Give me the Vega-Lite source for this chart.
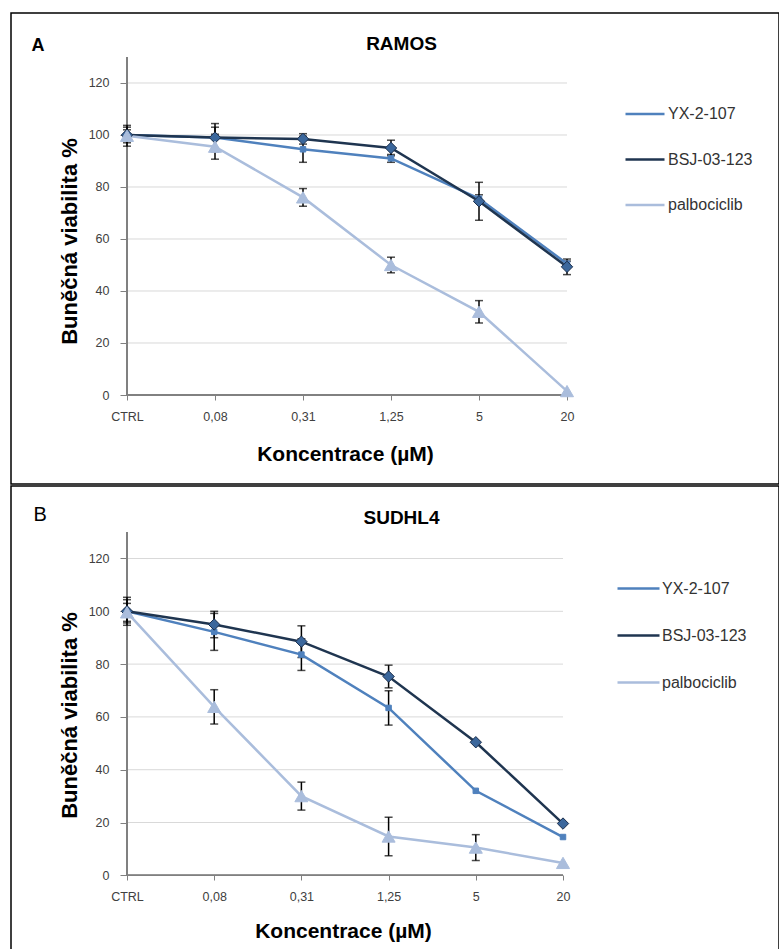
{
  "$schema": "https://vega.github.io/schema/vega-lite/v6.json",
  "padding": {"left": 10, "top": 12, "right": 0, "bottom": 0},
  "spacing": 0,
  "resolve": {"scale": {"color": "independent"}, "legend": {"color": "independent"}},
  "config": {
    "view": {"stroke": "#000000", "strokeWidth": 1.5},
    "font": "Liberation Sans",
    "concat": {"spacing": 0},
    "axis": {"labelFont": "Liberation Sans", "titleFont": "Liberation Sans"},
    "legend": {"labelFont": "Liberation Sans"}
  },
  "datasets": {
    "grid": [{"g": 20}, {"g": 40}, {"g": 60}, {"g": 80}, {"g": 100}, {"g": 120}],
    "ramos": [
      {"conc": "CTRL", "series": "YX-2-107", "v": 100, "err": 3},
      {"conc": "0,08", "series": "YX-2-107", "v": 99, "err": 4},
      {"conc": "0,31", "series": "YX-2-107", "v": 94.5, "err": 5},
      {"conc": "1,25", "series": "YX-2-107", "v": 91, "err": 1.5},
      {"conc": "5", "series": "YX-2-107", "v": 75.5, "err": 1.5},
      {"conc": "20", "series": "YX-2-107", "v": 50.5, "err": 1},
      {"conc": "CTRL", "series": "BSJ-03-123", "v": 100, "err": 2},
      {"conc": "0,08", "series": "BSJ-03-123", "v": 99, "err": 5.4},
      {"conc": "0,31", "series": "BSJ-03-123", "v": 98.5, "err": 2},
      {"conc": "1,25", "series": "BSJ-03-123", "v": 95, "err": 3},
      {"conc": "5", "series": "BSJ-03-123", "v": 74.5, "err": 7.3},
      {"conc": "20", "series": "BSJ-03-123", "v": 49.3, "err": 3},
      {"conc": "CTRL", "series": "palbociclib", "v": 99.7, "err": 4},
      {"conc": "0,08", "series": "palbociclib", "v": 95.5, "err": 4.8},
      {"conc": "0,31", "series": "palbociclib", "v": 76, "err": 3.4},
      {"conc": "1,25", "series": "palbociclib", "v": 50, "err": 3},
      {"conc": "5", "series": "palbociclib", "v": 32, "err": 4.3},
      {"conc": "20", "series": "palbociclib", "v": 1.5, "err": 0}
    ],
    "sudhl4": [
      {"conc": "CTRL", "series": "YX-2-107", "v": 100, "err": 4.4},
      {"conc": "0,08", "series": "YX-2-107", "v": 92.2, "err": 7},
      {"conc": "0,31", "series": "YX-2-107", "v": 83.6, "err": 6},
      {"conc": "1,25", "series": "YX-2-107", "v": 63.4, "err": 6.5},
      {"conc": "5", "series": "YX-2-107", "v": 32, "err": 0},
      {"conc": "20", "series": "YX-2-107", "v": 14.5, "err": 0},
      {"conc": "CTRL", "series": "BSJ-03-123", "v": 100, "err": 5.3},
      {"conc": "0,08", "series": "BSJ-03-123", "v": 95, "err": 5},
      {"conc": "0,31", "series": "BSJ-03-123", "v": 88.5, "err": 6},
      {"conc": "1,25", "series": "BSJ-03-123", "v": 75.3, "err": 4.3},
      {"conc": "5", "series": "BSJ-03-123", "v": 50.4, "err": 0},
      {"conc": "20", "series": "BSJ-03-123", "v": 19.6, "err": 0},
      {"conc": "CTRL", "series": "palbociclib", "v": 99.6, "err": 3.4},
      {"conc": "0,08", "series": "palbociclib", "v": 63.8, "err": 6.5},
      {"conc": "0,31", "series": "palbociclib", "v": 30, "err": 5.3},
      {"conc": "1,25", "series": "palbociclib", "v": 14.7, "err": 7.3},
      {"conc": "5", "series": "palbociclib", "v": 10.5, "err": 4.9},
      {"conc": "20", "series": "palbociclib", "v": 4.7, "err": 0}
    ]
  },
  "vconcat": [
    {
      "width": 768,
      "height": 471,
      "layer": [
        {
          "data": {"name": "grid"},
          "mark": {"type": "rule", "color": "#D9D9D9", "strokeWidth": 1},
          "encoding": {
            "y": {"field": "g", "type": "quantitative", "scale": {"domain": [-34.23, 146.92], "nice": false, "zero": false}, "axis": null},
            "x": {"datum": "CTRL", "type": "ordinal", "scale": {"type": "point", "domain": ["CTRL", "0,08", "0,31", "1,25", "5", "20"], "padding": 0, "range": [116, 556]}, "axis": null},
            "x2": {"datum": "20"}
          }
        },
        {
          "data": {"name": "grid"},
          "mark": {"type": "rule", "color": "#808080", "strokeWidth": 1.2},
          "encoding": {
            "y": {"datum": 0, "type": "quantitative", "scale": {"domain": [-34.23, 146.92], "nice": false, "zero": false}, "axis": null},
            "y2": {"datum": 130},
            "x": {"datum": "CTRL", "type": "ordinal", "scale": {"type": "point", "domain": ["CTRL", "0,08", "0,31", "1,25", "5", "20"], "padding": 0, "range": [116, 556]}, "axis": null}
          }
        },
        {
          "data": {"name": "grid"},
          "mark": {"type": "rule", "color": "#808080", "strokeWidth": 1.2},
          "encoding": {
            "y": {"datum": 0, "type": "quantitative", "scale": {"domain": [-34.23, 146.92], "nice": false, "zero": false}, "axis": null},
            "x": {"datum": "CTRL", "type": "ordinal", "scale": {"type": "point", "domain": ["CTRL", "0,08", "0,31", "1,25", "5", "20"], "padding": 0, "range": [116, 556]}, "axis": null},
            "x2": {"datum": "20"}
          }
        },
        {
          "data": {"name": "ramos"},
          "transform": [{"filter": "datum.err > 0"}],
          "mark": {"type": "errorbar", "color": "#000000", "ticks": {"size": 8, "thickness": 1.5, "color": "#000000"}, "rule": {"strokeWidth": 1.5, "color": "#000000"}},
          "encoding": {
            "x": {"field": "conc", "type": "ordinal", "scale": {"type": "point", "domain": ["CTRL", "0,08", "0,31", "1,25", "5", "20"], "padding": 0, "range": [116, 556]}, "axis": null},
            "y": {"field": "v", "type": "quantitative", "scale": {"domain": [-34.23, 146.92], "nice": false, "zero": false}, "axis": null},
            "yError": {"field": "err"}
          }
        },
        {
          "data": {"name": "ramos"},
          "mark": {"type": "line", "strokeWidth": 2.5},
          "encoding": {
            "x": {"field": "conc", "type": "ordinal", "scale": {"type": "point", "domain": ["CTRL", "0,08", "0,31", "1,25", "5", "20"], "padding": 0, "range": [116, 556]},
              "axis": {"orient": "bottom", "offset": -89, "domain": false, "grid": false, "ticks": true, "tickSize": 5, "tickColor": "#808080", "labelPadding": 10, "labelFontSize": 12.5, "labelColor": "#404040", "labelAngle": 0, "title": "Koncentrace (µM)", "titleX": 334, "titleY": 65, "titleAlign": "center", "titleBaseline": "alphabetic", "titleFontSize": 21, "titleFontWeight": "bold", "titleColor": "#000000", "minExtent": 0, "maxExtent": 0}},
            "y": {"field": "v", "type": "quantitative", "scale": {"domain": [-34.23, 146.92], "nice": false, "zero": false},
              "axis": {"orient": "left", "offset": -116, "values": [0, 20, 40, 60, 80, 100, 120], "domain": false, "grid": false, "tickSize": 7, "tickColor": "#808080", "labelPadding": 11, "labelFontSize": 12.5, "labelColor": "#404040", "title": "Buněčná viabilita %", "titleX": -51, "titleY": 228, "titleAngle": -90, "titleAlign": "center", "titleBaseline": "alphabetic", "titleFontSize": 22, "titleFontWeight": "bold", "titleColor": "#000000", "minExtent": 0, "maxExtent": 0}},
            "color": {"field": "series", "type": "nominal", "scale": {"domain": ["YX-2-107", "BSJ-03-123", "palbociclib"], "range": ["#4F81BD", "#1F3550", "#AABDDC"]},
              "legend": {"orient": "none", "legendX": 613, "legendY": 80, "title": null, "symbolType": "stroke", "symbolSize": 1521, "symbolStrokeWidth": 2.5, "labelFontSize": 16, "labelColor": "#333333", "rowPadding": 16.5, "labelOffset": 2}}
          }
        },
        {
          "data": {"name": "ramos"},
          "transform": [{"filter": "datum.series == 'YX-2-107'"}],
          "mark": {"type": "point", "filled": true, "opacity": 1, "shape": "square", "size": 30, "fill": "#4F81BD", "stroke": "#4F81BD", "strokeWidth": 1},
          "encoding": {
            "x": {"field": "conc", "type": "ordinal", "scale": {"type": "point", "domain": ["CTRL", "0,08", "0,31", "1,25", "5", "20"], "padding": 0, "range": [116, 556]},
              "axis": {"orient": "top", "domain": false, "grid": false, "ticks": false, "labels": false, "title": "RAMOS", "titleX": 390, "titleY": 36, "titleAlign": "center", "titleBaseline": "alphabetic", "titleFontSize": 19, "titleFontWeight": "bold", "titleColor": "#000000", "minExtent": 0, "maxExtent": 0}},
            "y": {"field": "v", "type": "quantitative", "scale": {"domain": [-34.23, 146.92], "nice": false, "zero": false},
              "axis": {"orient": "right", "domain": false, "grid": false, "ticks": false, "labels": false, "title": "A", "titleX": -748, "titleY": 37, "titleAngle": 0, "titleAlign": "left", "titleBaseline": "alphabetic", "titleFontSize": 18, "titleFontWeight": "bold", "titleColor": "#000000", "minExtent": 0, "maxExtent": 0}}
          }
        },
        {
          "data": {"name": "ramos"},
          "transform": [{"filter": "datum.series == 'BSJ-03-123'"}],
          "mark": {"type": "point", "filled": true, "opacity": 1, "shape": "diamond", "size": 130, "fill": "#3B679C", "stroke": "#1B2E4B", "strokeWidth": 1},
          "encoding": {
            "x": {"field": "conc", "type": "ordinal", "scale": {"type": "point", "domain": ["CTRL", "0,08", "0,31", "1,25", "5", "20"], "padding": 0, "range": [116, 556]}, "axis": null},
            "y": {"field": "v", "type": "quantitative", "scale": {"domain": [-34.23, 146.92], "nice": false, "zero": false}, "axis": null}
          }
        },
        {
          "data": {"name": "ramos"},
          "transform": [{"filter": "datum.series == 'palbociclib'"}],
          "mark": {"type": "point", "filled": true, "opacity": 1, "shape": "triangle-up", "size": 170, "fill": "#AABDDC", "stroke": "#AABDDC", "strokeWidth": 1},
          "encoding": {
            "x": {"field": "conc", "type": "ordinal", "scale": {"type": "point", "domain": ["CTRL", "0,08", "0,31", "1,25", "5", "20"], "padding": 0, "range": [116, 556]}, "axis": null},
            "y": {"field": "v", "type": "quantitative", "scale": {"domain": [-34.23, 146.92], "nice": false, "zero": false}, "axis": null}
          }
        }
      ]
    },
    {
      "width": 768,
      "height": 465,
      "layer": [
        {
          "data": {"name": "grid"},
          "mark": {"type": "rule", "color": "#D9D9D9", "strokeWidth": 1},
          "encoding": {
            "y": {"field": "g", "type": "quantitative", "scale": {"domain": [-28.67, 147.46], "nice": false, "zero": false}, "axis": null},
            "x": {"datum": "CTRL", "type": "ordinal", "scale": {"type": "point", "domain": ["CTRL", "0,08", "0,31", "1,25", "5", "20"], "padding": 0, "range": [116, 552]}, "axis": null},
            "x2": {"datum": "20"}
          }
        },
        {
          "data": {"name": "grid"},
          "mark": {"type": "rule", "color": "#808080", "strokeWidth": 1.2},
          "encoding": {
            "y": {"datum": 0, "type": "quantitative", "scale": {"domain": [-28.67, 147.46], "nice": false, "zero": false}, "axis": null},
            "y2": {"datum": 130},
            "x": {"datum": "CTRL", "type": "ordinal", "scale": {"type": "point", "domain": ["CTRL", "0,08", "0,31", "1,25", "5", "20"], "padding": 0, "range": [116, 552]}, "axis": null}
          }
        },
        {
          "data": {"name": "grid"},
          "mark": {"type": "rule", "color": "#808080", "strokeWidth": 1.2},
          "encoding": {
            "y": {"datum": 0, "type": "quantitative", "scale": {"domain": [-28.67, 147.46], "nice": false, "zero": false}, "axis": null},
            "x": {"datum": "CTRL", "type": "ordinal", "scale": {"type": "point", "domain": ["CTRL", "0,08", "0,31", "1,25", "5", "20"], "padding": 0, "range": [116, 552]}, "axis": null},
            "x2": {"datum": "20"}
          }
        },
        {
          "data": {"name": "sudhl4"},
          "transform": [{"filter": "datum.err > 0"}],
          "mark": {"type": "errorbar", "color": "#000000", "ticks": {"size": 8, "thickness": 1.5, "color": "#000000"}, "rule": {"strokeWidth": 1.5, "color": "#000000"}},
          "encoding": {
            "x": {"field": "conc", "type": "ordinal", "scale": {"type": "point", "domain": ["CTRL", "0,08", "0,31", "1,25", "5", "20"], "padding": 0, "range": [116, 552]}, "axis": null},
            "y": {"field": "v", "type": "quantitative", "scale": {"domain": [-28.67, 147.46], "nice": false, "zero": false}, "axis": null},
            "yError": {"field": "err"}
          }
        },
        {
          "data": {"name": "sudhl4"},
          "mark": {"type": "line", "strokeWidth": 2.5},
          "encoding": {
            "x": {"field": "conc", "type": "ordinal", "scale": {"type": "point", "domain": ["CTRL", "0,08", "0,31", "1,25", "5", "20"], "padding": 0, "range": [116, 552]},
              "axis": {"orient": "bottom", "offset": -76, "domain": false, "grid": false, "ticks": true, "tickSize": 5, "tickColor": "#808080", "labelPadding": 10, "labelFontSize": 12.5, "labelColor": "#404040", "labelAngle": 0, "title": "Koncentrace (µM)", "titleX": 332, "titleY": 62, "titleAlign": "center", "titleBaseline": "alphabetic", "titleFontSize": 21, "titleFontWeight": "bold", "titleColor": "#000000", "minExtent": 0, "maxExtent": 0}},
            "y": {"field": "v", "type": "quantitative", "scale": {"domain": [-28.67, 147.46], "nice": false, "zero": false},
              "axis": {"orient": "left", "offset": -116, "values": [0, 20, 40, 60, 80, 100, 120], "domain": false, "grid": false, "tickSize": 7, "tickColor": "#808080", "labelPadding": 11, "labelFontSize": 12.5, "labelColor": "#404040", "title": "Buněčná viabilita %", "titleX": -51, "titleY": 229, "titleAngle": -90, "titleAlign": "center", "titleBaseline": "alphabetic", "titleFontSize": 22, "titleFontWeight": "bold", "titleColor": "#000000", "minExtent": 0, "maxExtent": 0}},
            "color": {"field": "series", "type": "nominal", "scale": {"domain": ["YX-2-107", "BSJ-03-123", "palbociclib"], "range": ["#4F81BD", "#1F3550", "#AABDDC"]},
              "legend": {"orient": "none", "legendX": 605, "legendY": 80, "title": null, "symbolType": "stroke", "symbolSize": 1764, "symbolStrokeWidth": 2.5, "labelFontSize": 16, "labelColor": "#333333", "rowPadding": 16, "labelOffset": 1}}
          }
        },
        {
          "data": {"name": "sudhl4"},
          "transform": [{"filter": "datum.series == 'YX-2-107'"}],
          "mark": {"type": "point", "filled": true, "opacity": 1, "shape": "square", "size": 30, "fill": "#4F81BD", "stroke": "#4F81BD", "strokeWidth": 1},
          "encoding": {
            "x": {"field": "conc", "type": "ordinal", "scale": {"type": "point", "domain": ["CTRL", "0,08", "0,31", "1,25", "5", "20"], "padding": 0, "range": [116, 552]},
              "axis": {"orient": "top", "domain": false, "grid": false, "ticks": false, "labels": false, "title": "SUDHL4", "titleX": 390, "titleY": 37, "titleAlign": "center", "titleBaseline": "alphabetic", "titleFontSize": 19, "titleFontWeight": "bold", "titleColor": "#000000", "minExtent": 0, "maxExtent": 0}},
            "y": {"field": "v", "type": "quantitative", "scale": {"domain": [-28.67, 147.46], "nice": false, "zero": false},
              "axis": {"orient": "right", "domain": false, "grid": false, "ticks": false, "labels": false, "title": "B", "titleX": -746, "titleY": 34, "titleAngle": 0, "titleAlign": "left", "titleBaseline": "alphabetic", "titleFontSize": 20, "titleFontWeight": "normal", "titleColor": "#000000", "minExtent": 0, "maxExtent": 0}}
          }
        },
        {
          "data": {"name": "sudhl4"},
          "transform": [{"filter": "datum.series == 'BSJ-03-123'"}],
          "mark": {"type": "point", "filled": true, "opacity": 1, "shape": "diamond", "size": 130, "fill": "#3B679C", "stroke": "#1B2E4B", "strokeWidth": 1},
          "encoding": {
            "x": {"field": "conc", "type": "ordinal", "scale": {"type": "point", "domain": ["CTRL", "0,08", "0,31", "1,25", "5", "20"], "padding": 0, "range": [116, 552]}, "axis": null},
            "y": {"field": "v", "type": "quantitative", "scale": {"domain": [-28.67, 147.46], "nice": false, "zero": false}, "axis": null}
          }
        },
        {
          "data": {"name": "sudhl4"},
          "transform": [{"filter": "datum.series == 'palbociclib'"}],
          "mark": {"type": "point", "filled": true, "opacity": 1, "shape": "triangle-up", "size": 170, "fill": "#AABDDC", "stroke": "#AABDDC", "strokeWidth": 1},
          "encoding": {
            "x": {"field": "conc", "type": "ordinal", "scale": {"type": "point", "domain": ["CTRL", "0,08", "0,31", "1,25", "5", "20"], "padding": 0, "range": [116, 552]}, "axis": null},
            "y": {"field": "v", "type": "quantitative", "scale": {"domain": [-28.67, 147.46], "nice": false, "zero": false}, "axis": null}
          }
        }
      ]
    }
  ]
}
